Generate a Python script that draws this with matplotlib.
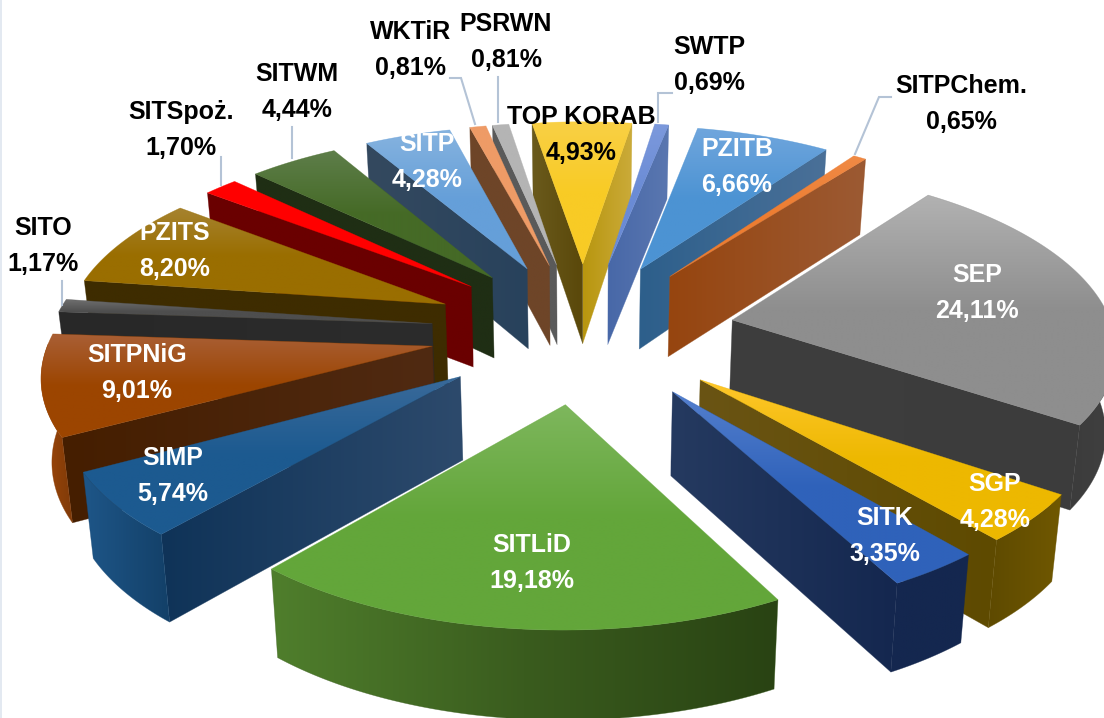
import numpy as np
import matplotlib
matplotlib.use("Agg")
import matplotlib.pyplot as plt
from matplotlib.patches import Polygon, Rectangle
from matplotlib.colors import LinearSegmentedColormap

plt.rcParams['font.family'] = ['Liberation Sans', 'DejaVu Sans']

# Data, clockwise starting with TOP KORAB
names = ['TOP KORAB', 'SWTP', 'PZITB', 'SITPChem.', 'SEP', 'SGP', 'SITK', 'SITLiD', 'SIMP',
         'SITPNiG', 'SITO', 'PZITS', 'SITSpoż.', 'SITWM', 'SITP', 'WKTiR', 'PSRWN']
values = [4.93, 0.69, 6.66, 0.65, 24.11, 4.28, 3.35, 19.18, 5.74,
          9.01, 1.17, 8.20, 1.70, 4.44, 4.28, 0.81, 0.81]

# Colours: top face (light, base), then walls (left, right)
top_colors = [('#F9D045', '#F8CB25'), ('#7C99DC', '#6A8BD5'), ('#70A6DD', '#4C93D3'), ('#F08A45', '#ED7D31'),
              ('#B2B2B2', '#8E8E8E'), ('#FFC72C', '#EDB800'), ('#5580CE', '#2F62BA'), ('#7EB75D', '#63A63A'),
              ('#3A6A9A', '#1C5A90'), ('#A95F35', '#9C4500'), ('#707070', '#4E4E4E'), ('#A68330', '#9A6E00'),
              ('#FF0000', '#FF0000'), ('#5E7E4A', '#456A26'), ('#86B3DF', '#659FD9'), ('#EE9B66', '#EE9B66'),
              ('#B4B4B4', '#B4B4B4')]
start_walls = [('#6A5A1C', '#5A480A'), ('#4868A8', '#5A77B0'), ('#2D5F8B', '#4A7098'), ('#96450F', '#9C5A33'),
               ('#3E3E3E', '#3E3E3E'), ('#5E4A00', '#5E4A00'), ('#14274F', '#14274F'), ('#294313', '#294313'),
               ('#0F3358', '#2D4A6C'), ('#451E00', '#502A12'), ('#282828', '#2C2C2C'), ('#3E2C00', '#3E2C00'),
               ('#6A0000', '#6A0000'), ('#1F2E14', '#1F2E14'), ('#34495F', '#28425C'), ('#6E4528', '#6E4528'),
               ('#5A5A5A', '#5A5A5A')]
end_walls = [('#B8960F', '#CBAB3A'), ('#4868A8', '#5A77B0'), ('#2D5F8B', '#4A7098'), ('#96450F', '#9C5A33'),
             ('#3E3E3E', '#3C3C3C'), ('#6A5414', '#5E4A00'), ('#253A60', '#14274F'), ('#294313', '#294313'),
             ('#0F3358', '#2D4A6C'), ('#451E00', '#502A12'), ('#282828', '#2C2C2C'), ('#3E2C00', '#3E2C00'),
             ('#6A0000', '#6A0000'), ('#1F2E14', '#1F2E14'), ('#34495F', '#28425C'), ('#6E4528', '#6E4528'),
             ('#5A5A5A', '#5A5A5A')]
outer_walls = [('#5A480A', '#B8960F'), ('#4868A8', '#4868A8'), ('#2D5F8B', '#2D5F8B'), ('#96450F', '#96450F'),
               ('#3C3C3C', '#404040'), ('#5E4A00', '#705800'), ('#14274F', '#14274F'), ('#4F7E2C', '#294313'),
               ('#1E5688', '#134068'), ('#A0480A', '#7F3A08'), ('#282828', '#282828'), ('#3E2C00', '#3E2C00'),
               ('#6A0000', '#6A0000'), ('#1F2E14', '#1F2E14'), ('#34495F', '#34495F'), ('#6E4528', '#6E4528'),
               ('#5A5A5A', '#5A5A5A')]

# Label centres in pixels and text colour
label_pos = {'TOP KORAB': (581, 135, 'black'), 'SWTP': (709, 65, 'black'), 'PZITB': (737, 167, 'white'),
             'SITPChem.': (961, 104, 'black'), 'SEP': (977, 293, 'white'), 'SGP': (995, 502, 'white'),
             'SITK': (885, 536, 'white'), 'SITLiD': (532, 563, 'white'), 'SIMP': (173, 476, 'white'),
             'SITPNiG': (137, 373, 'white'), 'SITO': (43, 246, 'black'), 'PZITS': (175, 251, 'white'),
             'SITSpoż.': (181, 130, 'black'), 'SITWM': (297, 92, 'black'), 'SITP': (427, 162, 'white'),
             'WKTiR': (411, 50, 'black'), 'PSRWN': (506, 42, 'black')}

leaders = [([62, 62], [281, 305]), ([221, 221], [157, 185]), ([292, 292], [127, 158]),
           ([450, 461, 475], [78, 78, 124]), ([498, 498], [77, 122]),
           ([672, 658, 658], [93, 93, 122]), ([891, 879, 855], [97, 97, 154])]

# Projection of the pie plane to pixels
CX, CY = 583, 331
AX_R, AY_R = 381, 176
PERSP = 0.127
EXPLODE = 0.40
HEIGHT = 82
START = -9.0


def project(u, v):
    s = 1 / (1 - PERSP * v)
    return CX + AX_R * u * s, CY + AY_R * v * s


def drop(x, y, v):
    # bottom edge of a wall under a top face point
    return CX + (x - CX) * 0.98, y + HEIGHT * (1 + 0.07 * v)


fig = plt.figure(figsize=(11.04, 7.18), dpi=100)
ax = fig.add_axes([0, 0, 1, 1])
ax.set_axis_off()
ax.set_xlim(0, 1104)
ax.set_ylim(718, 0)


def fill_gradient(pts, colors, vertical, z):
    pts = np.array(pts)
    cmap = LinearSegmentedColormap.from_list('g', colors)
    n = np.linspace(0, 1, 128)
    grad = n.reshape(-1, 1) if vertical else n.reshape(1, -1)
    x0, y0 = pts.min(axis=0)
    x1, y1 = pts.max(axis=0)
    poly = Polygon(pts, closed=True, fc='none', ec='none', zorder=z)
    ax.add_patch(poly)
    im = ax.imshow(grad, cmap=cmap, extent=(x0, x1, y1, y0), aspect='auto', zorder=z,
                   interpolation='bilinear')
    im.set_clip_path(poly)
    # soft edge, clip paths are not antialiased
    ax.add_patch(Polygon(pts, closed=True, fc='none', ec=cmap(0.5), lw=0.4, alpha=0.6, zorder=z))


edges = START + np.concatenate([[0], np.cumsum(values)]) / np.sum(values) * 360
mids = (edges[:-1] + edges[1:]) / 2
order = sorted(range(len(names)), key=lambda k: -np.cos(np.radians(mids[k])))

z = 1
for i in order:
    t1, t2 = np.radians(edges[i]), np.radians(edges[i + 1])
    m = np.radians(mids[i])
    eu, ev = EXPLODE * np.sin(m), -EXPLODE * np.cos(m)
    th = np.linspace(t1, t2, max(4, int((edges[i + 1] - edges[i]) * 2)))
    uu, vv = eu + np.sin(th), ev - np.cos(th)
    arc = np.array([project(a, b) for a, b in zip(uu, vv)])
    apex = np.array(project(eu, ev))
    inner = np.array(project(eu + 0.6 * np.sin(m), ev - 0.6 * np.cos(m)))

    walls = []
    for cidx, colors in [(0, start_walls[i]), (-1, end_walls[i])]:
        p = arc[cidx]
        dx = apex[0] - p[0]
        if abs(dx) < 1e-6:
            continue
        # a radial wall shows only when the top face lies above its edge
        y_edge = p[1] + (inner[0] - p[0]) / dx * (apex[1] - p[1])
        if inner[1] < y_edge:
            quad = [p, apex, drop(apex[0], apex[1], ev), drop(p[0], p[1], vv[cidx])]
            walls.append((vv[cidx], quad, colors))
    for v_key, quad, colors in sorted(walls, key=lambda w: w[0]):
        fill_gradient(quad, colors, False, z)
        z += 1

    # outer wall, front half of the circle only
    vis = np.cos(th) < 0.02
    if vis.sum() >= 2:
        top_pts = arc[vis]
        low_pts = [drop(p[0], p[1], v) for p, v in zip(top_pts, vv[vis])]
        quad = list(top_pts) + low_pts[::-1]
        if names[i] == 'SITLiD':
            cols = ['#4F7E2C', '#3A5C1E', '#294313']
        else:
            cols = list(outer_walls[i])
        fill_gradient(quad, cols, False, z)
        z += 1

    face = [apex] + list(arc)
    light, base = top_colors[i]
    fill_gradient(face, [light, base, base], True, z)
    z += 1

for lx, ly in leaders:
    ax.plot(lx, ly, color='#B4C3D6', lw=1.5, zorder=z, solid_joinstyle='miter')

for name, val in zip(names, values):
    x, y, col = label_pos[name]
    txt = name + '\n' + ('%.2f' % val).replace('.', ',') + '%'
    ax.text(x, y, txt, ha='center', va='center', color=col, fontsize=18, fontweight='bold',
            linespacing=1.65, zorder=z + 1)

# thin pale stripe on the left side of the slide
ax.add_patch(Rectangle((0, 0), 2, 718, fc='#E3E9F1', ec='none', zorder=z + 2))

ax.set_xlim(0, 1104)
ax.set_ylim(718, 0)
fig.savefig('out.png', dpi=100)
